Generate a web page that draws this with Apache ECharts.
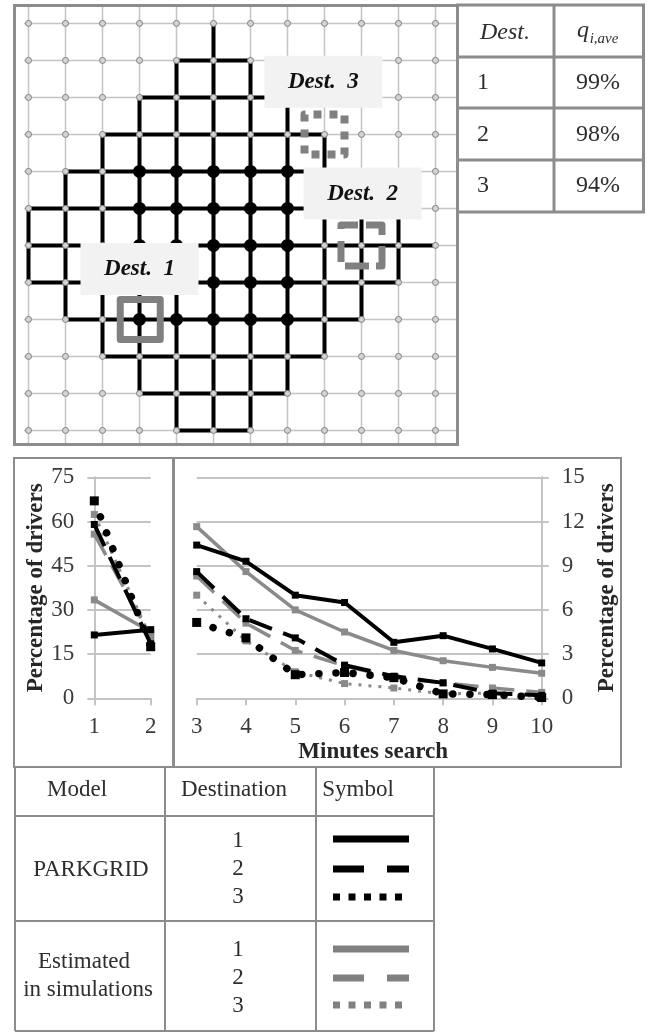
<!DOCTYPE html>
<html><head><meta charset="utf-8">
<style>html,body{margin:0;padding:0;background:#fff}#c{width:652px;height:1032px}</style>
<script src="https://cdn.jsdelivr.net/npm/echarts@6/dist/echarts.min.js"></script>
</head><body><div id="c"></div>
<script>
// --- Map data (columns 0-11, rows 0-11) ---
const blackRows = [[1,4,6],[2,3,7],[3,2,8],[4,1,8],[5,0,8],[6,0,11],[7,0,10],[8,1,9],[9,2,8],[10,3,7],[11,4,6]];
const blackCols = [[0,5,7],[1,4,8],[2,3,9],[3,2,10],[4,1,11],[5,0,11],[6,1,11],[7,2,10],[8,3,9],[9,4,8],[10,5,7]];
const blackNodes = [[3,4],[4,4],[5,4],[6,4],[7,4],[3,5],[4,5],[5,5],[6,5],[7,5],[3,6],[4,6],[5,6],[6,6],[7,6],[3,7],[4,7],[5,7],[6,7],[7,7],[3,8],[4,8],[5,8],[6,8],[7,8]];
const gridIndex = [0,1,2,3,4,5,6,7,8,9,10,11];
const destLabels = [["Dest.  1",3,6.64],["Dest.  2",9.03,4.6],["Dest.  3",7.97,1.58]];
const destMarks = {one:[3.02,8], two:[9,6], three:[8,3]};

// --- Chart data ---
const leftCats = ["1","2"];
const rightCats = ["3","4","5","6","7","8","9","10"];
const leftP1 = [21.5,23.3], leftP2 = [59,18.5], leftP3 = [67,17.5];
const leftS1 = [33.4,22.6], leftS2 = [55.7,21], leftS3 = [62.4,20.5];
const rightP1 = [10.4,9.3,7.0,6.5,3.8,4.25,3.35,2.4];
const rightP2 = [8.6,5.4,4.1,2.25,1.5,1.05,0.35,0.2];
const rightP3 = [5.15,4.1,1.6,1.75,1.4,0.3,0.25,0.05];
const rightS1 = [11.65,8.6,6.0,4.5,3.25,2.55,2.1,1.7];
const rightS2 = [8.3,5.1,3.25,2.2,1.4,1.05,0.7,0.4];
const rightS3 = [7.0,3.9,1.8,1.0,0.7,0.3,0.35,0.1];

// --- Table text ---
const qRows = [["1","99%"],["2","98%"],["3","94%"]];
const destNums = ["1","2","3"];

const SERIF = '"Liberation Serif"';
const GRAY = '#8a8a8a', LIGHT = '#c4c4c4', FRAME = '#8c8c8c', INK = '#3a3a3a';

const series = [];
// light grid
gridIndex.forEach(i => {
  series.push({type:'line',xAxisIndex:0,yAxisIndex:0,silent:true,showSymbol:false,z:1,lineStyle:{color:LIGHT,width:1.5},data:[[i,-1],[i,12]]});
  series.push({type:'line',xAxisIndex:0,yAxisIndex:0,silent:true,showSymbol:false,z:1,lineStyle:{color:LIGHT,width:1.5},data:[[-0.12,i],[12,i]]});
});
// black network
blackRows.forEach(([r,a,b]) => series.push({type:'line',xAxisIndex:0,yAxisIndex:0,silent:true,showSymbol:false,z:2,lineStyle:{color:'#000',width:4,cap:'round'},data:[[a,r],[b,r]]}));
blackCols.forEach(([c,a,b]) => series.push({type:'line',xAxisIndex:0,yAxisIndex:0,silent:true,showSymbol:false,z:2,lineStyle:{color:'#000',width:4,cap:'round'},data:[[c,a],[c,b]]}));
// nodes
const allNodes = [];
gridIndex.forEach(c => gridIndex.forEach(r => allNodes.push([c,r])));
series.push({type:'scatter',xAxisIndex:0,yAxisIndex:0,silent:true,z:3,symbolSize:6,itemStyle:{opacity:1,color:'#d4d4d4',borderColor:'#808080',borderWidth:1},data:allNodes});
series.push({type:'scatter',xAxisIndex:0,yAxisIndex:0,silent:true,z:3,symbolSize:13,itemStyle:{opacity:1,color:'#000'},data:blackNodes});
// destination squares
const sq = (p,size,dash,off,w) => series.push({type:'scatter',xAxisIndex:0,yAxisIndex:0,silent:true,z:4,symbol:'rect',symbolSize:size,
  itemStyle:{opacity:1,color:'rgba(0,0,0,0)',borderColor:'#808080',borderWidth:w,borderType:dash,borderDashOffset:off,borderJoin:'round'},data:[p]});
sq(destMarks.one,40,'solid',0,7);
sq(destMarks.two,41,[17,8,26,11,26,7,24,8,21,12,4],0,7);
sq(destMarks.three,40,[8,8],7,8);
// label boxes
series.push({type:'scatter',xAxisIndex:0,yAxisIndex:0,silent:true,z:5,symbol:'rect',symbolSize:[118,52],itemStyle:{opacity:1,color:'#f2f2f2'},
  label:{show:true,position:'inside',formatter:p=>p.data[2],fontFamily:SERIF,fontStyle:'italic',fontWeight:'bold',fontSize:23,color:'#111'},
  data:destLabels.map(d=>[d[1],d[2],d[0]])});

// chart lines
function addLine(ax, data, kind, black){
  const color = black ? '#000' : GRAY;
  const ls = {color, width: black?4:3.5, cap:'butt'};
  let size = 7;
  if(kind==='dash'){ ls.type=[24,12]; }
  if(kind==='dot'){ ls.type= black?[0.1,17]:[3,7]; ls.cap= black?'round':'butt'; ls.width= black?7.5:3; size = black?9:7; }
  series.push({type:'line',xAxisIndex:ax,yAxisIndex:ax,silent:true,z:black?6:5,symbol:'rect',symbolSize:size,showSymbol:true,
    itemStyle:{color},lineStyle:ls,data});
}
addLine(1,leftS1,'solid',false);addLine(1,leftS2,'dash',false);addLine(1,leftS3,'dot',false);
addLine(1,leftP1,'solid',true);addLine(1,leftP2,'dash',true);addLine(1,leftP3,'dot',true);
addLine(2,rightS1,'solid',false);addLine(2,rightS2,'dash',false);addLine(2,rightS3,'dot',false);
addLine(2,rightP1,'solid',true);addLine(2,rightP2,'dash',true);addLine(2,rightP3,'dot',true);

// graphic helpers
const g = [];
const frame = (x,y,w,h,lw,c) => g.push({type:'rect',z:50,silent:true,shape:{x,y,width:w,height:h},style:{fill:'none',stroke:c||FRAME,lineWidth:lw}});
const hl = (x1,y1,x2,y2,lw,c,dash) => g.push({type:'line',z:50,silent:true,shape:{x1,y1,x2,y2},style:{stroke:c,lineWidth:lw,lineDash:dash||null}});
const tx = (t,x,y,size,o) => g.push({type:'text',z:51,silent:true,x,y,style:Object.assign({text:t,font:(o&&o.font||'')+' '+size+'px '+SERIF,fill:'#2e2e2e',align:'center',verticalAlign:'middle'},o&&o.style||{})});

frame(14.5,5.5,443,439,3);
// top table
frame(457.5,5,186,207,3);
hl(554,5,554,212,3,FRAME);
[57,108,160].forEach(y=>hl(457,y,644,y,3,FRAME));
tx('Dest.',505,33,24,{font:'italic'});
tx('q',583,31,24,{font:'italic'});
tx('i,ave',604,39,15,{font:'italic'});
qRows.forEach((r,i)=>{const y=[83,135,186][i]; tx(r[0],483,y,24); tx(r[1],598,y,24);});
// chart frames
frame(14,458,159,309,2);
frame(174,458,447,309,2);
// bottom table
const tb = '#8c8c8c';
hl(15,768,15,1031,2,tb);hl(165,768,165,1030,2,tb);hl(316,768,316,1030,2,tb);hl(434,768,434,1031,2,tb);
hl(15,816,434,816,2,tb);hl(15,921,434,921,2,tb);hl(15,1031,434,1031,2,tb);
tx('Model',77,790,23);tx('Destination',234,790,23);tx('Symbol',358,790,23);
tx('PARKGRID',91,870,23);tx('Estimated',84,962,23);tx('in simulations',88,990,23);
destNums.forEach((n,i)=>{tx(n,238,[841,869,897][i],23);tx(n,238,[950,978,1006][i],23);});
[['#000',839,869,897],['#808080',949,978,1005]].forEach(([c,a,b,d])=>{
  hl(333,a,409,a,7,c);
  hl(333,b,364,b,7,c);hl(387,b,409,b,7,c);
  hl(333,d,402,d,7,c,[7,8.5]);
});

const tick = {show:true,length:7,inside:false,lineStyle:{color:LIGHT,width:2}};
const axisLine = {show:true,lineStyle:{color:LIGHT,width:2}};
const lab = {fontFamily:SERIF,fontSize:23,color:INK};
const nameSt = {fontFamily:SERIF,fontSize:23,fontWeight:'bold',color:'#262626'};
const split = {show:true,lineStyle:{color:LIGHT,width:2}};

const option = {
  animation:false,backgroundColor:'#fff',
  grid:[
    {left:14,width:443,top:6,height:437},
    {left:94.3,width:56.4,top:477.3,height:221},
    {left:196.7,width:345,top:477.3,height:221}
  ],
  xAxis:[
    {gridIndex:0,type:'value',show:false,min:-0.392,max:11.581,splitLine:{show:false}},
    {gridIndex:1,type:'category',boundaryGap:false,data:leftCats,axisLine,axisTick:tick,splitLine:{show:false},axisLabel:Object.assign({margin:17,interval:0},lab)},
    {gridIndex:2,type:'category',boundaryGap:false,data:rightCats,axisLine,axisTick:tick,splitLine:{show:false},axisLabel:Object.assign({margin:17,interval:0},lab),
      name:'Minutes search',nameLocation:'middle',nameGap:42,nameTextStyle:Object.assign({padding:[0,0,0,8]},nameSt)}
  ],
  yAxis:[
    {gridIndex:0,type:'value',show:false,inverse:true,min:-0.47,max:11.34,splitLine:{show:false}},
    {gridIndex:1,type:'value',min:0,max:75,interval:15,axisLine,axisTick:tick,splitLine:split,axisLabel:Object.assign({margin:20},lab),
      name:'Percentage of drivers',nameLocation:'middle',nameRotate:90,nameGap:47,nameTextStyle:nameSt},
    {gridIndex:2,type:'value',position:'right',min:0,max:15,interval:3,axisLine,axisTick:tick,splitLine:split,axisLabel:Object.assign({margin:20},lab),
      name:'Percentage of drivers',nameLocation:'middle',nameRotate:90,nameGap:47,nameTextStyle:nameSt}
  ],
  series,
  graphic:{elements:g}
};
echarts.init(document.getElementById('c'),null,{renderer:'canvas'}).setOption(option);
</script></body></html>
